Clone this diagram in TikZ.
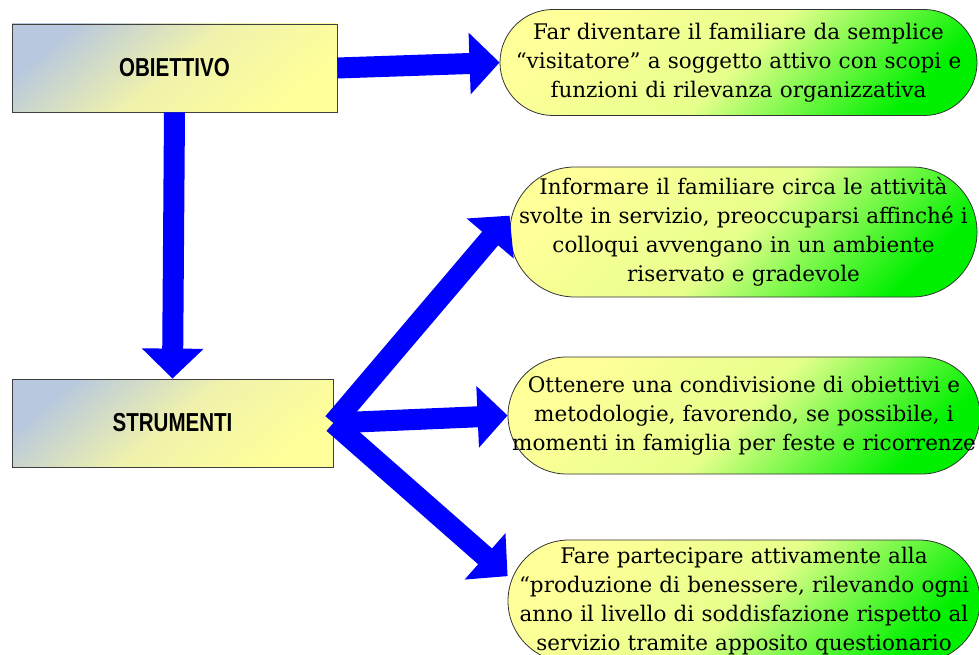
\documentclass[tikz,border=0pt]{standalone}
\usepackage{fontspec}
\usepackage{tikz}
\usetikzlibrary{arrows.meta}
\newfontfamily\pillfont{DejaVu Serif}
\newfontfamily\boxfont[FakeStretch=0.79]{Liberation Sans}
\definecolor{boxblue}{HTML}{B8C8DE}
\definecolor{boxmid}{HTML}{F0F2AC}
\definecolor{boxyellow}{HTML}{FFFF99}
\definecolor{pillyellow}{HTML}{FFFF99}
\definecolor{pillmid}{HTML}{E6FF8C}
\definecolor{pillgreen}{HTML}{00F000}
\tikzset{
  goalbox/.style={draw=black!75, line width=.8pt, top color=boxblue, bottom color=boxyellow,
    middle color=boxmid, shading angle=40, inner sep=0pt,
    font=\boxfont\bfseries\fontsize{26}{30}\selectfont},
  pill/.style={draw=black!80, line width=.8pt, top color=pillyellow, bottom color=pillgreen,
    middle color=pillmid, shading angle=45, inner sep=0pt,
    text width=462pt, align=center, font=\pillfont\fontsize{21.5}{29}\selectfont},
  bluearrow/.style={draw=blue, line width=21pt, -{Triangle[length=30pt,width=60pt]}}
}

\begin{document}
\begin{tikzpicture}[x=1pt,y=-1pt]
  \useasboundingbox (0,0) rectangle (979,655);
  \clip (0,0) rectangle (979,655);
  \node[goalbox, minimum width=325pt, minimum height=88pt] (obiettivo) at (174.5,68) {OBIETTIVO};
  \node[goalbox, minimum width=321pt, minimum height=88pt] (strumenti) at (172.5,423) {STRUMENTI};
  \node[pill, minimum width=477pt, minimum height=106pt, rounded corners=53pt] (scopo) at (738.5,62.5)
    {Far diventare il familiare da semplice\\“visitatore” a soggetto attivo con scopi e\\funzioni di rilevanza organizzativa};
  \node[pill, minimum width=467pt, minimum height=130pt, rounded corners=65pt] (informare) at (743.5,232)
    {Informare il familiare circa le attività\\svolte in servizio, preoccuparsi affinché i\\colloqui avvengano in un ambiente\\riservato e gradevole};
  \node[pill, minimum width=472pt, minimum height=117pt, rounded corners=58.5pt] (condividere) at (744,415.5)
    {Ottenere una condivisione di obiettivi e\\metodologie, favorendo, se possibile, i\\\makebox[\linewidth][c]{momenti in famiglia per feste e ricorrenze}};
  \node[pill, minimum width=472pt, minimum height=122pt, rounded corners=61pt] (partecipare) at (744,601)
    {Fare partecipare attivamente alla\\“produzione di benessere, rilevando ogni\\anno il livello di soddisfazione rispetto al\\servizio tramite apposito questionario};
  \draw[bluearrow] (obiettivo.east) -- (scopo.west);
  \draw[bluearrow] (obiettivo.south) -- (strumenti.north);
  \draw[bluearrow] (strumenti.east) -- (informare.176);
  \draw[bluearrow] (strumenti.east) -- (condividere.west);
  \draw[bluearrow] (strumenti.east) -- (partecipare.174);
\end{tikzpicture}
\end{document}
